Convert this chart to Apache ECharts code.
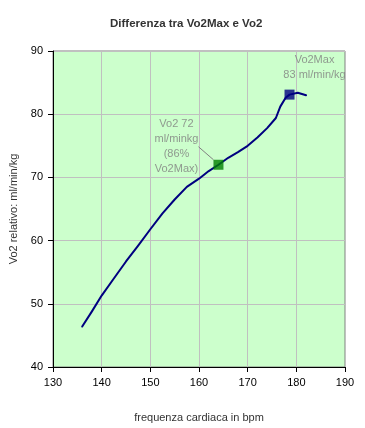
<!DOCTYPE html>
<html><head><meta charset="utf-8">
<script src="https://cdn.jsdelivr.net/npm/echarts@6/dist/echarts.min.js"></script>
<style>html,body{margin:0;padding:0;background:#fff}#c{width:365px;height:428px}</style>
</head><body><div id="c"></div>
<script>
var heartRate = [136, 138, 140, 142.5, 145, 147.5, 150, 152.5, 155, 157.5, 160, 162, 164, 166, 168, 170, 172, 174, 175.8, 176.7, 177.8, 178.6, 180.3, 182];
var vo2 = [46.4, 48.8, 51.3, 54.0, 56.7, 59.2, 61.8, 64.3, 66.5, 68.5, 69.8, 71.0, 72.0, 73.1, 74.0, 75.0, 76.3, 77.8, 79.4, 81.2, 82.6, 83.1, 83.4, 83.0];
var vo2Point = [164, 72];
var vo2MaxPoint = [178.6, 83.1];
var vo2Label = 'Vo2 72\nml/minkg\n(86%\nVo2Max)';
var vo2MaxLabel = 'Vo2Max\n83 ml/min/kg';
var xTicks = [130, 190, 10];
var yTicks = [40, 90, 10];

var font = 'Liberation Sans';
var chart = echarts.init(document.getElementById('c'));
chart.setOption({
  animation: false,
  title: {
    text: 'Differenza tra Vo2Max e Vo2',
    left: 105, top: 13,
    textStyle: {fontFamily: font, fontSize: 11.5, fontWeight: 'bold', color: '#333'}
  },
  grid: {left: 51, right: 20, top: 51, bottom: 61, show: true, backgroundColor: '#ccffcc', borderColor: '#808080', borderWidth: 1},
  xAxis: {
    type: 'value', min: xTicks[0], max: xTicks[1], interval: xTicks[2],
    name: 'frequenza cardiaca in bpm', nameLocation: 'middle', nameGap: 45,
    nameTextStyle: {fontFamily: font, fontSize: 11, color: '#333'},
    axisLine: {show: true, lineStyle: {color: '#000', width: 1}},
    axisTick: {show: true, inside: false, length: 5, lineStyle: {color: '#000'}},
    axisLabel: {fontFamily: font, fontSize: 11, color: '#000', margin: 10},
    splitLine: {show: true, lineStyle: {color: '#c0c0c0', width: 1}}
  },
  yAxis: {
    type: 'value', min: yTicks[0], max: yTicks[1], interval: yTicks[2],
    name: 'Vo2 relativo: ml/min/kg', nameLocation: 'middle', nameGap: 34,
    nameTextStyle: {fontFamily: font, fontSize: 11, color: '#333'},
    axisLine: {show: true, lineStyle: {color: '#000', width: 1}},
    axisTick: {show: true, inside: false, length: 5, lineStyle: {color: '#000'}},
    axisLabel: {fontFamily: font, fontSize: 11, color: '#000', margin: 10},
    splitLine: {show: true, lineStyle: {color: '#c0c0c0', width: 1}}
  },
  series: [
    {
      type: 'line', data: heartRate.map(function (h, i) { return [h, vo2[i]]; }),
      smooth: false, showSymbol: false, symbol: 'none',
      lineStyle: {color: '#000080', width: 2, join: 'round', cap: 'round'}, z: 2
    },
    {
      type: 'scatter', data: [vo2Point], symbol: 'rect', symbolSize: 10,
      itemStyle: {color: '#008000'}, z: 3,
      label: {show: true, formatter: vo2Label, position: 'inside', align: 'center', verticalAlign: 'middle',
        fontFamily: font, fontSize: 11, lineHeight: 15, color: '#808080'},
      labelLayout: {dx: -42, dy: -18},
      labelLine: {show: true, length2: 0, lineStyle: {color: '#808080', width: 1}}
    },
    {
      type: 'scatter', data: [vo2MaxPoint], symbol: 'rect', symbolSize: 10,
      itemStyle: {color: '#000080'}, z: 3,
      label: {show: true, formatter: vo2MaxLabel, position: 'top', distance: 5, offset: [25, -2], align: 'center',
        fontFamily: font, fontSize: 11, lineHeight: 15, color: '#808080'}
    }
  ]
});
</script></body></html>
